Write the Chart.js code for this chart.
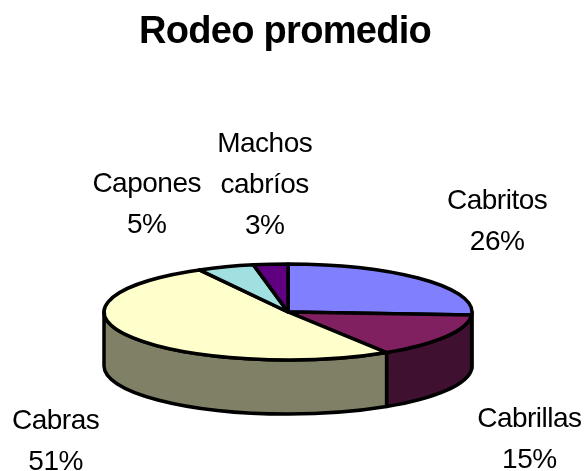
<!DOCTYPE html>
<html><head><meta charset="utf-8">
<style>html,body{margin:0;padding:0;background:#fff}canvas{display:block}</style>
<script src="https://cdn.jsdelivr.net/npm/chart.js@4"></script>
</head><body><canvas id="c" width="586" height="471"></canvas>
<script>
const categories = [["Cabritos"], ["Cabrillas"], ["Cabras"], ["Capones"], ["Machos", "cabríos"]];
const shares = [26, 15, 51, 5, 3];
const topColors = ["#8080FF", "#802060", "#FFFFCC", "#A0E0E0", "#600080"];
const wallColors = ["#404080", "#401030", "#808066", "#507070", "#300040"];
const labelOffsets = [[75, -57], [83, 103], [-74, 105], [-79, -62], [-6, -79]];

const SQUASH = 48 / 184, DEPTH = 54, LINE = 3.5, FONT = '"Liberation Sans", Arial, sans-serif';

const pie3d = {
  id: 'pie3d',
  afterLayout(chart) {
    chart.titleBlock.left -= 3;
    chart.titleBlock.right -= 3;
  },
  beforeDraw(chart) {
    if ('letterSpacing' in chart.ctx) chart.ctx.letterSpacing = '-0.7px';
  },
  beforeDatasetDraw(chart, args) {
    const ctx = chart.ctx, arcs = args.meta.data;
    ctx.save();
    ctx.lineWidth = LINE; ctx.strokeStyle = '#000'; ctx.lineJoin = 'round';
    arcs.forEach((el, i) => {
      const p = el.getProps(['x', 'y', 'startAngle', 'endAngle', 'outerRadius'], true);
      const rx = p.outerRadius, ry = rx * SQUASH;
      const a0 = Math.max(p.startAngle, 0), a1 = Math.min(p.endAngle, Math.PI);
      if (a1 <= a0) return;
      ctx.beginPath();
      ctx.ellipse(p.x, p.y, rx, ry, 0, a0, a1);
      ctx.ellipse(p.x, p.y + DEPTH, rx, ry, 0, a1, a0, true);
      ctx.closePath();
      ctx.fillStyle = wallColors[i];
      ctx.fill(); ctx.stroke();
    });
    arcs.forEach((el, i) => {
      const p = el.getProps(['x', 'y', 'startAngle', 'endAngle', 'outerRadius'], true);
      const rx = p.outerRadius, ry = rx * SQUASH;
      ctx.beginPath();
      ctx.moveTo(p.x, p.y);
      ctx.ellipse(p.x, p.y, rx, ry, 0, p.startAngle, p.endAngle);
      ctx.closePath();
      ctx.fillStyle = topColors[i];
      ctx.fill(); ctx.stroke();
    });
    ctx.restore();
    return false;
  },
  afterDraw(chart) {
    const ctx = chart.ctx, arcs = chart.getDatasetMeta(0).data;
    ctx.save();
    ctx.fillStyle = '#000';
    ctx.font = '28px ' + FONT;
    ctx.textAlign = 'center'; ctx.textBaseline = 'middle';
    if ('letterSpacing' in ctx) ctx.letterSpacing = '-0.5px';
    arcs.forEach((el, i) => {
      const p = el.getProps(['x', 'y', 'startAngle', 'endAngle', 'outerRadius'], true);
      const mid = (p.startAngle + p.endAngle) / 2;
      const rimX = p.x + p.outerRadius * Math.cos(mid);
      const rimY = p.y + p.outerRadius * SQUASH * Math.sin(mid);
      const lines = [...categories[i], shares[i] + '%'];
      const h = 41;
      lines.forEach((t, k) => {
        ctx.fillText(t, rimX + labelOffsets[i][0], rimY + labelOffsets[i][1] + (k - (lines.length - 1) / 2) * h);
      });
    });
    ctx.restore();
  }
};

new Chart(document.getElementById('c'), {
  type: 'pie',
  data: { labels: categories, datasets: [{ data: shares, backgroundColor: topColors, borderColor: '#000', borderWidth: 0, radius: 184 }] },
  plugins: [pie3d],
  options: {
    responsive: false, animation: false, events: [],
    layout: { padding: { left: 104, right: 114, top: 0, bottom: 47.6 } },
    plugins: {
      legend: { display: false }, tooltip: { enabled: false },
      title: { display: true, text: 'Rodeo promedio', color: '#000',
        font: { family: FONT, size: 38, weight: 'bold' },
        padding: { top: 10, bottom: 145 } }
    }
  }
});
</script></body></html>
